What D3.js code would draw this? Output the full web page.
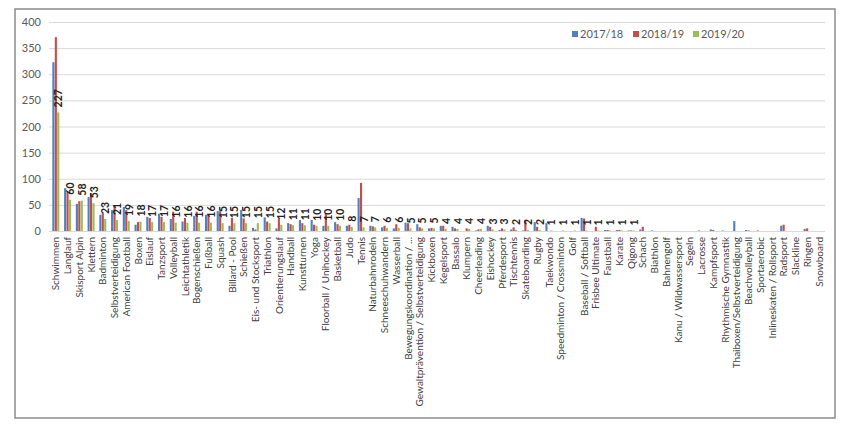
<!DOCTYPE html>
<html><head><meta charset="utf-8">
<script src="https://cdn.jsdelivr.net/npm/d3@7/dist/d3.min.js"></script>
<style>body{margin:0;background:#fff}svg{display:block}</style>
</head><body><svg id="c" width="850" height="427"></svg>
<script>
const categories = ["Schwimmen","Langlauf","Skisport Alpin","Klettern","Badminton","Selbstverteidigung","American Football","Boxen","Eislauf","Tanzsport","Volleyball","Leichtathletik","Bogenschießen","Fußball","Squash","Billard - Pool","Schießen","Eis- und Stocksport","Triathlon","Orientierungslauf","Handball","Kunstturnen","Yoga","Floorball / Unihockey","Basketball","Judo","Tennis","Naturbahnrodeln","Schneeschuhwandern","Wasserball","Bewegungskoordination / ...","Gewaltprävention / Selbstverteidigung","Kickboxen","Kegelsport","Bassalo","Klumpern","Cheerleading","Eishockey","Pferdesport","Tischtennis","Skateboarding","Rugby","Taekwondo","Speedminton / Crossminton","Golf","Baseball / Softball","Frisbee Ultimate","Faustball","Karate","Qigong","Schach","Biathlon","Bahnengolf","Kanu / Wildwassersport","Segeln","Lacrosse","Kampfsport","Rhythmische Gymnastik","Thaiboxen/Selbstverteidigung","Beachvolleyball","Sportaerobic","Inlineskaten / Rollsport","Radsport","Slackline","Ringen","Snowboard"];
const s2017 = [323,82,52,65,31,40,46,12,27,33,23,18,29,31,38,10,40,6,26,5,15,21,21,10,17,10,63,10,7,5,16,13,5,10,8,0,1,10,2,3,1,17,15,0,0,25,0,2,2,1,3,1,0,0,0,1,3,1,19,2,1,0,10,0,4,0];
const s2018 = [371,75,57,72,34,47,40,17,25,27,37,25,37,31,38,25,24,3,18,24,13,15,12,34,13,12,92,9,10,13,15,7,6,10,5,5,3,8,5,7,21,8,0,0,0,24,8,2,2,1,8,0,0,0,0,0,2,0,0,1,0,0,12,0,5,0];
const s2019 = [227,60,58,53,23,21,19,18,17,17,16,16,16,16,15,15,15,15,15,12,11,11,10,10,10,8,7,7,6,6,5,5,5,4,4,4,4,3,3,2,2,2,1,1,1,1,1,1,1,1,0,0,0,0,0,0,0,0,0,0,0,0,0,0,0,0];
const seriesNames = ["2017/18","2018/19","2019/20"];
const colors = ["#4f81bd","#c0504d","#9bbb59"];
const yTicks = [0,50,100,150,200,250,300,350,400];

const series = [s2017,s2018,s2019];
const svg = d3.select("#c");
const font = "Lato, 'Open Sans', sans-serif";

// frame
svg.append("rect").attr("x",15).attr("y",9).attr("width",820).attr("height",409)
  .attr("fill","none").attr("stroke","#8c8c8c").attr("stroke-width",1.5);

const x0 = d3.scaleBand().domain(categories).range([50,825]).paddingInner(0.38).paddingOuter(0.2);
const x1 = d3.scaleBand().domain(seriesNames).range([0,x0.bandwidth()]);
const y = d3.scaleLinear().domain([0,400]).range([231,22]);

// grid
svg.append("g").selectAll("line").data(yTicks).join("line")
  .attr("x1",49).attr("x2",825).attr("y1",d=>y(d)+0.5).attr("y2",d=>y(d)+0.5)
  .attr("stroke","#d9d9d9").attr("stroke-width",1);

const yAxis = d3.axisLeft(y).tickValues(yTicks).tickSize(0).tickPadding(0);
const ya = svg.append("g").attr("transform","translate(41,0)").call(yAxis);
ya.select(".domain").remove();
ya.selectAll("text").attr("font-family",font).attr("font-size",11).attr("fill","#595959");

// bars
const g = svg.append("g");
seriesNames.forEach((name,si)=>{
  g.append("g").selectAll("rect").data(categories).join("rect")
    .attr("x",(c)=>x0(c)+x1(name))
    .attr("width",x1.bandwidth()-0.3)
    .attr("y",(c,i)=>y(series[si][i]))
    .attr("height",(c,i)=>y(0)-y(series[si][i]))
    .attr("fill",colors[si]);
});

// data labels for 2019/20 (non-zero)
svg.append("g").selectAll("text").data(categories.map((c,i)=>({c,v:s2019[i]})).filter(d=>d.v>0)).join("text")
  .attr("transform",d=>`translate(${x0(d.c)+x1("2019/20")+x1.bandwidth()/2+4},${y(d.v)-5}) rotate(-90)`)
  .attr("font-family",font).attr("font-size",10.5).attr("font-weight","bold").attr("fill","#222")
  .text(d=>d.v);

// x labels
svg.append("g").selectAll("text").data(categories).join("text")
  .attr("transform",c=>`translate(${x0(c)+x0.bandwidth()/2+3.5},237) rotate(-90)`)
  .attr("text-anchor","end")
  .attr("font-family",font).attr("font-size",10).attr("fill","#404040")
  .text(c=>c);

// legend
const lg = svg.append("g").attr("transform","translate(572,31)");
const lx = [0,61,121];
seriesNames.forEach((n,i)=>{
  lg.append("rect").attr("x",lx[i]).attr("y",0).attr("width",6).attr("height",6).attr("fill",colors[i]);
  lg.append("text").attr("x",lx[i]+8).attr("y",6.5).attr("font-family",font).attr("font-size",11)
    .attr("fill","#595959").text(n);
});
</script></body></html>
